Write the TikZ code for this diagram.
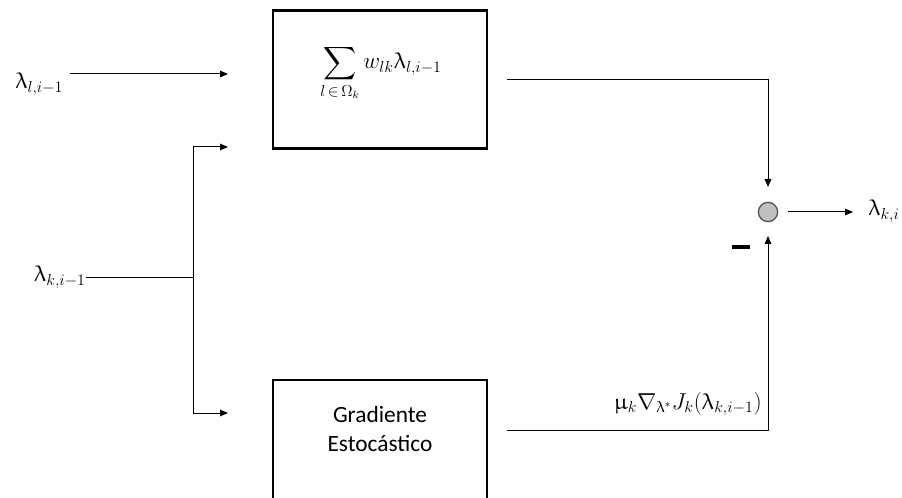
\documentclass[tikz,border=0pt]{standalone}
\usepackage{amsmath}
\usepackage{upgreek}
\usepackage{fontspec}
\setmainfont{Carlito}
\usetikzlibrary{arrows.meta}
\tikzset{
  blk/.style={draw, line width=2.2pt, inner sep=0pt},
  con/.style={line width=0.75pt},
  arr/.style={con, -{Triangle[length=6pt,width=5pt]}},
  lbl/.style={inner sep=0pt, font=\fontsize{17}{20}\selectfont},
}
\begin{document}
\begin{tikzpicture}[x=0.75pt,y=-0.75pt]
\useasboundingbox (0,0) rectangle (902,498);
\clip (0,0) rectangle (902,498);
% boxes
\node[blk, minimum width=160.5pt, minimum height=104pt] (sumbox) at (380,79.5) {};
\node[lbl] (sumtxt) at (381,73) {$\displaystyle\sum_{l\,\in\,\Omega_k} w_{lk}\uplambda_{l,i-1}$};
\node[blk, minimum width=160.5pt, minimum height=105pt] (gbox) at (380,450) {};
\node[lbl, align=center, font=\fontsize{17.5}{21}\selectfont] (gtxt) at (380,429) {Gradiente\\[1pt]Estocástico};
% summing junction
\node[circle, draw=black!70, fill=black!25, line width=0.9pt, minimum size=14.5pt, inner sep=0pt] (sj) at (768,212) {};
% labels
\node[lbl, anchor=base west] (lin) at (15,89) {$\uplambda_{l,i-1}$};
\node[lbl, anchor=base east] (kin) at (86,282) {$\uplambda_{k,i-1}$};
\node[lbl, anchor=west] (out) at (868,211) {$\uplambda_{k,i}$};
\node[lbl, anchor=base east] (mu) at (762,409) {$\upmu_k\nabla_{\uplambda^*}J_k(\uplambda_{k,i-1})$};
% coordinates
\coordinate (a1s) at (70,74);
\coordinate (a1e) at (228,74);
\coordinate (split) at (193,278);
\coordinate (b1) at (193,147);
\coordinate (b1e) at (228,147);
\coordinate (b2) at (193,413);
\coordinate (b2e) at (228,413);
\coordinate (topout) at (507,80);
\coordinate (topin) at (768,187);
\coordinate (botout) at (507,430);
\coordinate (botin) at (768,236);
\coordinate (oute) at (853,212);
% connectors
\draw[arr] (a1s) -- (a1e);
\draw[con] (kin.base east) ++(0,-4) -- (split);
\draw[arr] (split) -- (b1) -- (b1e);
\draw[arr] (split) -- (b2) -- (b2e);
\draw[arr] (topout) -| (topin);
\draw[arr] (botout) -| (botin);
\draw[arr] (sj.east) ++(10,0) -- (oute);
% minus sign
\draw[line width=2.4pt] (732,247) -- (750,247);
\end{tikzpicture}
\end{document}
